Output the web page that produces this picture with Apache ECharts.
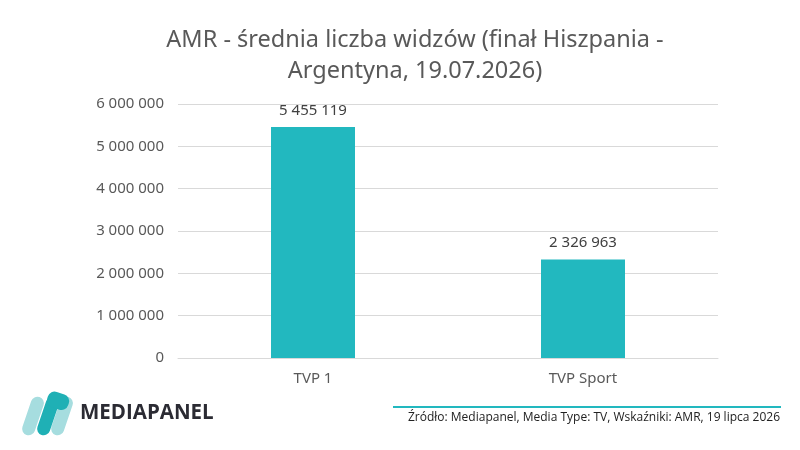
<!DOCTYPE html>
<html><head><meta charset="utf-8">
<script src="https://cdn.jsdelivr.net/npm/echarts@6/dist/echarts.min.js"></script>
<style>html,body{margin:0;padding:0;background:#fff}#c{width:800px;height:450px}</style>
</head><body><div id="c"></div>
<script>
var categories = ['TVP 1', 'TVP Sport'];
var values = [5455119, 2326963];
var titleText = 'AMR - średnia liczba widzów (finał Hiszpania -\nArgentyna, 19.07.2026)';
var sourceText = 'Źródło: Mediapanel, Media Type: TV, Wskaźniki: AMR, 19 lipca 2026';
var brandText = 'MEDIAPANEL';

function fmt(v){ return String(v).replace(/\B(?=(\d{3})+(?!\d))/g, ' '); }

var chart = echarts.init(document.getElementById('c'));
var rot = -0.33;
function pill(cx, cy, h, color){
  return {type:'rect', x:cx, y:cy, rotation:rot, originX:0, originY:0,
    shape:{x:-6.5, y:-h/2, width:13, height:h, r:6.5}, style:{fill:color}, z:10};
}
chart.setOption({
  animation:false,
  title:{text:titleText, left:410, top:20, textAlign:'center',
    textStyle:{fontFamily:'Noto Sans', fontSize:23.5, fontWeight:'normal', color:'#595959', lineHeight:31}},
  grid:{left:178, right:82, top:104, bottom:92},
  xAxis:{type:'category', data:categories,
    axisLine:{lineStyle:{color:'#d9d9d9'}}, axisTick:{show:false},
    axisLabel:{color:'#595959', fontSize:15, fontFamily:'Noto Sans', margin:13}},
  yAxis:{type:'value', min:0, max:6000000, interval:1000000,
    axisLine:{show:false}, axisTick:{show:false},
    splitLine:{lineStyle:{color:'#d9d9d9'}},
    axisLabel:{color:'#595959', fontSize:15, fontFamily:'Noto Sans', margin:14, formatter:fmt}},
  series:[{type:'bar', data:values, barWidth:84,
    itemStyle:{color:'#22B8BF'},
    label:{show:true, position:'top', distance:9, color:'#404040', fontSize:15, fontFamily:'Noto Sans',
      formatter:function(p){return fmt(p.value);}}}],
  graphic:[
    pill(33, 416, 40, '#A6DDDF'),
    pill(62, 416, 40, '#A6DDDF'),
    pill(48, 416, 40, '#1FB0B5'),
    {type:'rect', x:58, y:404, rotation:rot, originX:0, originY:0,
      shape:{x:-12, y:-11, width:22, height:16, r:7}, style:{fill:'#1FB0B5'}, z:11},
    {type:'text', left:80, top:403, z:10,
      style:{text:brandText, fill:'#2B2B33', fontSize:20.5, fontWeight:'bold', fontFamily:'Open Sans'}},
    {type:'rect', shape:{x:393, y:406, width:388, height:2}, style:{fill:'#22B8BF'}},
    {type:'text', right:20, top:412,
      style:{text:sourceText, fill:'#222', fontSize:12, fontFamily:'Open Sans'}}
  ]
});
</script></body></html>
